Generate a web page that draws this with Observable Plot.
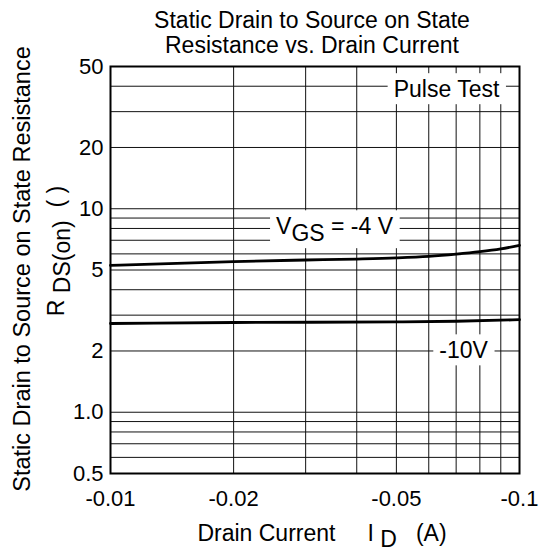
<!DOCTYPE html>
<html><head><meta charset="utf-8">
<script src="https://cdn.jsdelivr.net/npm/d3@7"></script>
<script src="https://cdn.jsdelivr.net/npm/@observablehq/plot@0.6"></script>
<style>
body{margin:0;background:#fff;}
#chart{width:551px;height:552px;}
#chart text{white-space:pre;}
</style></head><body><div id="chart"></div>
<script>
// Drain current I_D (A) and R_DS(on) (ohm)
const idVgs4 = [-0.01, -0.02, -0.03, -0.04, -0.05, -0.06, -0.07, -0.08, -0.09, -0.1];
const rVgs4  = [5.27, 5.50, 5.60, 5.66, 5.73, 5.83, 5.98, 6.15, 6.35, 6.60];
const idVgs10 = [-0.01, -0.02, -0.05, -0.07, -0.1];
const rVgs10  = [2.73, 2.76, 2.78, 2.80, 2.85];

const xTicks = [-0.01, -0.02, -0.05, -0.1];
const xTickLabels = ["-0.01", "-0.02", "-0.05", "-0.1"];
const yTicks = [0.5, 1, 2, 5, 10, 20, 50];
const yTickLabels = ["0.5", "1.0", "2", "5", "10", "20", "50"];
const xGrid = [-0.02, -0.03, -0.04, -0.05, -0.06, -0.07, -0.08, -0.09];
const yGrid = [0.6, 0.7, 0.8, 0.9, 1, 2, 3, 4, 5, 6, 7, 8, 9, 10, 20, 30, 40];

const noteText = ["Pulse Test", "V_{GS} = -4 V", "-10V"];
const noteX = [-0.0663, -0.0353, -0.073];
const noteY = [38.4, 8.14, 2.0];

const titleLines = ["Static Drain to Source on State", "Resistance vs. Drain Current"];
const yTitle = "Static Drain to Source on State Resistance";
const yTitle2 = "R_{ DS(on)}  ( )";
const xTitle = "Drain Current     I_{ D}   (A)";

const vgs4 = idVgs4.map((id, i) => ({id, r: rVgs4[i]}));
const vgs10 = idVgs10.map((id, i) => ({id, r: rVgs10[i]}));
const notes = noteText.map((t, i) => ({t, x: noteX[i], y: noteY[i]}));

const FONT = '"Liberation Sans", Arial, Helvetica, sans-serif';

const plot = Plot.plot({
  width: 551, height: 552,
  marginLeft: 110, marginRight: 32, marginTop: 66, marginBottom: 79,
  style: {fontFamily: FONT, fontSize: "22px", background: "white", color: "black", overflow: "visible"},
  x: {type: "log", domain: [-0.01, -0.1], ticks: xTicks,
      tickFormat: d => xTickLabels[xTicks.indexOf(d)], tickSize: 0, tickPadding: 17, label: null},
  y: {type: "log", domain: [0.5, 50], ticks: yTicks,
      tickFormat: d => yTickLabels[yTicks.indexOf(d)], tickSize: 0, tickPadding: 7, label: null},
  marks: [
    Plot.ruleX(xGrid, {stroke: "#111", strokeWidth: 1}),
    Plot.ruleY(yGrid, {stroke: "#111", strokeWidth: 1}),
    Plot.line(vgs4, {x: "id", y: "r", stroke: "black", strokeWidth: 2.8, curve: "monotone-x"}),
    Plot.line(vgs10, {x: "id", y: "r", stroke: "black", strokeWidth: 2.8, curve: "monotone-x"}),
    Plot.frame({stroke: "black", strokeWidth: 2}),
    Plot.text(notes, {x: "x", y: "y", text: "t", fontSize: 23, textAnchor: "middle", lineAnchor: "middle", fill: "black"}),
    Plot.text([titleLines[0]], {text: d => d, frameAnchor: "top", textAnchor: "middle", dx: -3, dy: -39, lineAnchor: "bottom", fontSize: 23, fill: "black"}),
    Plot.text([titleLines[1]], {text: d => d, frameAnchor: "top", textAnchor: "middle", dx: -3, dy: -13.5, lineAnchor: "bottom", fontSize: 23, fill: "black"}),
    Plot.text([yTitle], {text: d => d, frameAnchor: "left", textAnchor: "middle", rotate: -90, dx: -81, dy: -1, lineAnchor: "bottom", fontSize: 23.5, fill: "black"}),
    Plot.text([yTitle2], {text: d => d, frameAnchor: "left", textAnchor: "middle", rotate: -90, dx: -47, dy: -19, lineAnchor: "bottom", fontSize: 23, fill: "black"}),
    Plot.text([xTitle], {text: d => d, frameAnchor: "bottom", textAnchor: "middle", dx: 7, dy: 67, lineAnchor: "bottom", fontSize: 23, fill: "black"})
  ]
});
document.getElementById("chart").appendChild(plot);

const NS = "http://www.w3.org/2000/svg";
// find the in-plot label texts before rewriting them
const noteSet = new Set(noteText);
const noteEls = [];
d3.select(plot).selectAll("text").each(function() {
  if (noteSet.has(this.textContent)) noteEls.push(this);
});

// subscripts: "_{...}" becomes a lowered tspan
d3.select(plot).selectAll("text").each(function() {
  const s = this.textContent;
  if (!s.includes("_{")) return;
  const parts = [];
  const re = /_\{([^}]*)\}/g;
  let last = 0, m;
  while ((m = re.exec(s))) {
    if (m.index > last) parts.push([s.slice(last, m.index), false]);
    parts.push([m[1], true]);
    last = re.lastIndex;
  }
  if (last < s.length) parts.push([s.slice(last), false]);
  this.textContent = "";
  let down = false;
  for (const [t, sub] of parts) {
    const ts = document.createElementNS(NS, "tspan");
    ts.textContent = t;
    if (sub && !down) { ts.setAttribute("dy", "0.3em"); down = true; }
    else if (!sub && down) { ts.setAttribute("dy", "-0.3em"); down = false; }
    this.appendChild(ts);
  }
});

// white boxes behind the in-plot labels
for (const el of noteEls) {
  const b = el.getBBox();
  const r = document.createElementNS(NS, "rect");
  r.setAttribute("x", b.x - 6);
  r.setAttribute("y", b.y - 3);
  r.setAttribute("width", b.width + 12);
  r.setAttribute("height", b.height + 5);
  r.setAttribute("fill", "white");
  const t = el.getAttribute("transform");
  if (t) r.setAttribute("transform", t);
  el.parentNode.insertBefore(r, el);
}
</script>
</body></html>
